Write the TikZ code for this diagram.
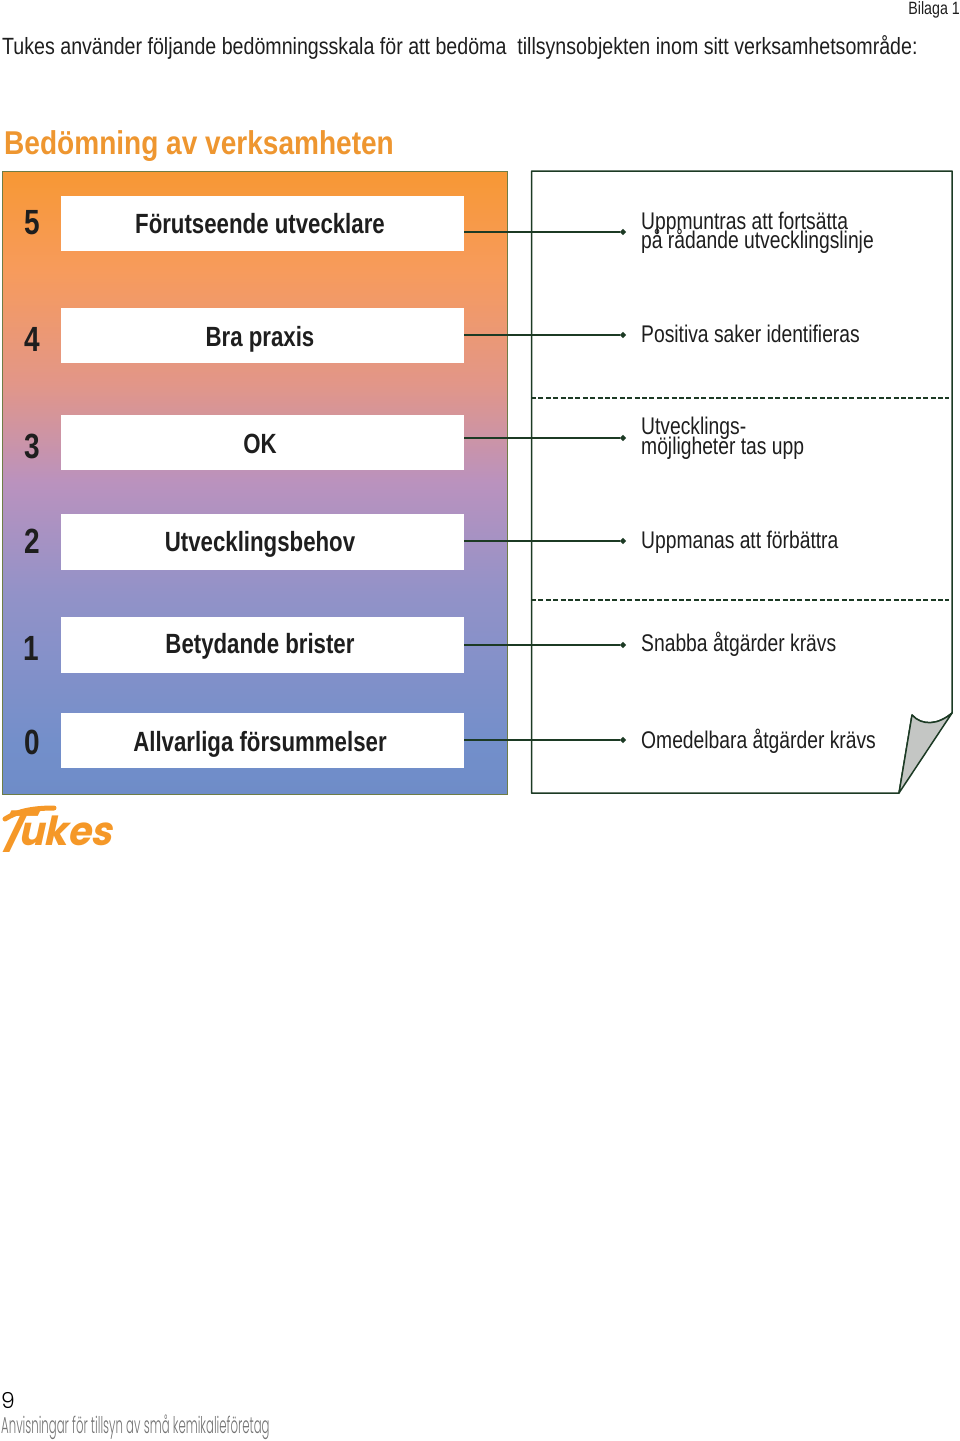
\documentclass[tikz,border=0pt]{standalone}
\usepackage{fontspec}
\setmainfont{Liberation Sans}
\newfontfamily\condreg[FakeStretch=0.80]{Liberation Sans}
\newfontfamily\introreg[FakeStretch=0.835]{Liberation Sans}
\newfontfamily\condbold[FakeStretch=0.80]{Liberation Sans Bold}
\newfontfamily\headbold[FakeStretch=0.85]{Liberation Sans Bold}
\newfontfamily\footfont[FakeStretch=0.51]{Poppins Light}
\newfontfamily\nineFont{Poppins Light}
\newfontfamily\logofont[FakeSlant=0.22,FakeStretch=0.95]{Poppins Bold}
\newfontfamily\logoT[FakeSlant=0.48]{Poppins Medium}
\definecolor{orangehead}{RGB}{238,150,48}
\definecolor{logoorange}{RGB}{245,152,40}
\definecolor{ink}{RGB}{30,30,30}
\definecolor{linegreen}{RGB}{28,58,36}
\definecolor{boxedge}{RGB}{110,125,70}
\definecolor{foldgrey}{RGB}{196,198,196}
\definecolor{g0}{RGB}{110,140,200}
\definecolor{g1}{RGB}{115,143,202}
\definecolor{g2}{RGB}{146,146,200}
\definecolor{g3}{RGB}{186,146,190}
\definecolor{g4}{RGB}{226,150,136}
\definecolor{g5}{RGB}{247,155,92}
\definecolor{g6}{RGB}{247,152,52}
\pgfdeclareverticalshading{scalegrad}{100bp}{
 color(0bp)=(g0); color(25bp)=(g0); color(29bp)=(g1); color(41bp)=(g2);
 color(50bp)=(g3); color(58bp)=(g4); color(67bp)=(g5); color(75bp)=(g6); color(100bp)=(g6)}
\usetikzlibrary{shapes.geometric}
\tikzset{
 x=1pt,y=-1pt,
 whitebox/.style={fill=white,draw=none,anchor=north west,inner sep=0pt,minimum width=403pt},
 boxlabel/.style={font=\condbold\fontsize{27.8}{27.8}\selectfont,text=ink,anchor=base,inner sep=0pt},
 levelnum/.style={font=\condbold\fontsize{35}{35}\selectfont,text=ink,anchor=center,inner sep=0pt},
 answer/.style={font=\condreg\fontsize{24.1}{24.1}\selectfont,text=ink,anchor=base west,inner sep=0pt},
 leader/.style={draw=linegreen,line width=1.1pt},
 leaderdot/.style={fill=linegreen,draw=none,diamond,minimum size=6.5pt,inner sep=0pt},
 panel/.style={draw=linegreen,line width=1.5pt,fill=white,line join=round},
 divider/.style={draw=linegreen,line width=1.2pt,dash pattern=on 5pt off 2.4pt},
}
\begin{document}
\begin{tikzpicture}
\useasboundingbox (0,0) rectangle (960,1441);
\node[anchor=base east,inner sep=0pt,font=\condreg\fontsize{17.8}{17.8}\selectfont,text=ink] (bilaga) at (960,14) {Bilaga 1};
\node[anchor=base west,inner sep=0pt,font=\introreg\fontsize{23.5}{23.5}\selectfont,text=ink] (intro) at (2,54) {Tukes använder följande bedömningsskala för att bedöma\ \ tillsynsobjekten inom sitt verksamhetsområde:};
\node[anchor=base west,inner sep=0pt,font=\headbold\fontsize{33}{33}\selectfont,text=orangehead] (title) at (4,154) {Bedömning av verksamheten};
\shade[shading=scalegrad,draw=boxedge,line width=1pt] (2,171) rectangle (507,794);
\path[panel] (531.5,171) -- (952,171) -- (952,713) .. controls (938,725) and (922,726) .. (912,715) -- (899,793) -- (531.5,793) -- cycle;
\path[draw=linegreen,line width=1.5pt,fill=foldgrey,line join=round] (952,713) .. controls (938,725) and (922,726) .. (912,715) -- (899,793) -- cycle;
\draw[divider] (531,398) -- (949,398);
\draw[divider] (531,600) -- (949,600);
\node[whitebox,minimum height=55pt] (b5) at (61,196) {};
\node[whitebox,minimum height=55pt] (b4) at (61,308) {};
\node[whitebox,minimum height=55pt] (b3) at (61,415) {};
\node[whitebox,minimum height=56pt] (b2) at (61,514) {};
\node[whitebox,minimum height=56pt] (b1) at (61,617) {};
\node[whitebox,minimum height=55pt] (b0) at (61,713) {};
\node[boxlabel] (l5) at (260,233) {Förutseende utvecklare};
\node[boxlabel] (l4) at (260,346) {Bra praxis};
\node[boxlabel] (l3) at (260,453) {OK};
\node[boxlabel] (l2) at (260,551) {Utvecklingsbehov};
\node[boxlabel] (l1) at (260,653) {Betydande brister};
\node[boxlabel] (l0) at (260,751) {Allvarliga försummelser};
\node[levelnum] (n5) at (32,223) {5};
\node[levelnum] (n4) at (32,339) {4};
\node[levelnum] (n3) at (32,446) {3};
\node[levelnum] (n2) at (32,541) {2};
\node[levelnum] (n1) at (31,648) {1};
\node[levelnum] (n0) at (32,742) {0};
\foreach \nm/\yy in {5/232,4/335,3/438,2/541,1/645,0/740}{
 \node[leaderdot] (d\nm) at (623,\yy) {};
 \draw[leader] (b\nm.east |- d\nm) -- (d\nm);
}
\node[answer] (a5a) at (641,229) {Uppmuntras att fortsätta};
\node[answer] (a5b) at (641,248) {på rådande utvecklingslinje};
\node[answer] (a4) at (641,342) {Positiva saker identifieras};
\node[answer] (a3a) at (641,434) {Utvecklings-};
\node[answer] (a3b) at (641,454) {möjligheter tas upp};
\node[answer] (a2) at (641,548) {Uppmanas att förbättra};
\node[answer] (a1) at (641,651) {Snabba åtgärder krävs};
\node[answer] (a0) at (641,748) {Omedelbara åtgärder krävs};
% logo
\draw[logoorange,line width=5pt,line cap=round,line join=round] (5,819) .. controls (16,812) and (30,808) .. (54,808);
\node[anchor=base west,inner sep=0pt,text=logoorange] (logo) at (0,845) {\kern-11pt\raisebox{-7pt}{\logoT\fontsize{60}{60}\selectfont T}\kern-5pt{\logofont\fontsize{40}{40}\selectfont ukes}};
\node[anchor=west,inner sep=0pt,font=\nineFont\fontsize{22}{22}\selectfont,text=black] (page) at (1,1400) {9};
\node[anchor=west,inner sep=0pt,font=\footfont\fontsize{23}{23}\selectfont,text=black!55] (foot) at (1,1427) {Anvisningar för tillsyn av små kemikalieföretag};
\end{tikzpicture}
\end{document}
